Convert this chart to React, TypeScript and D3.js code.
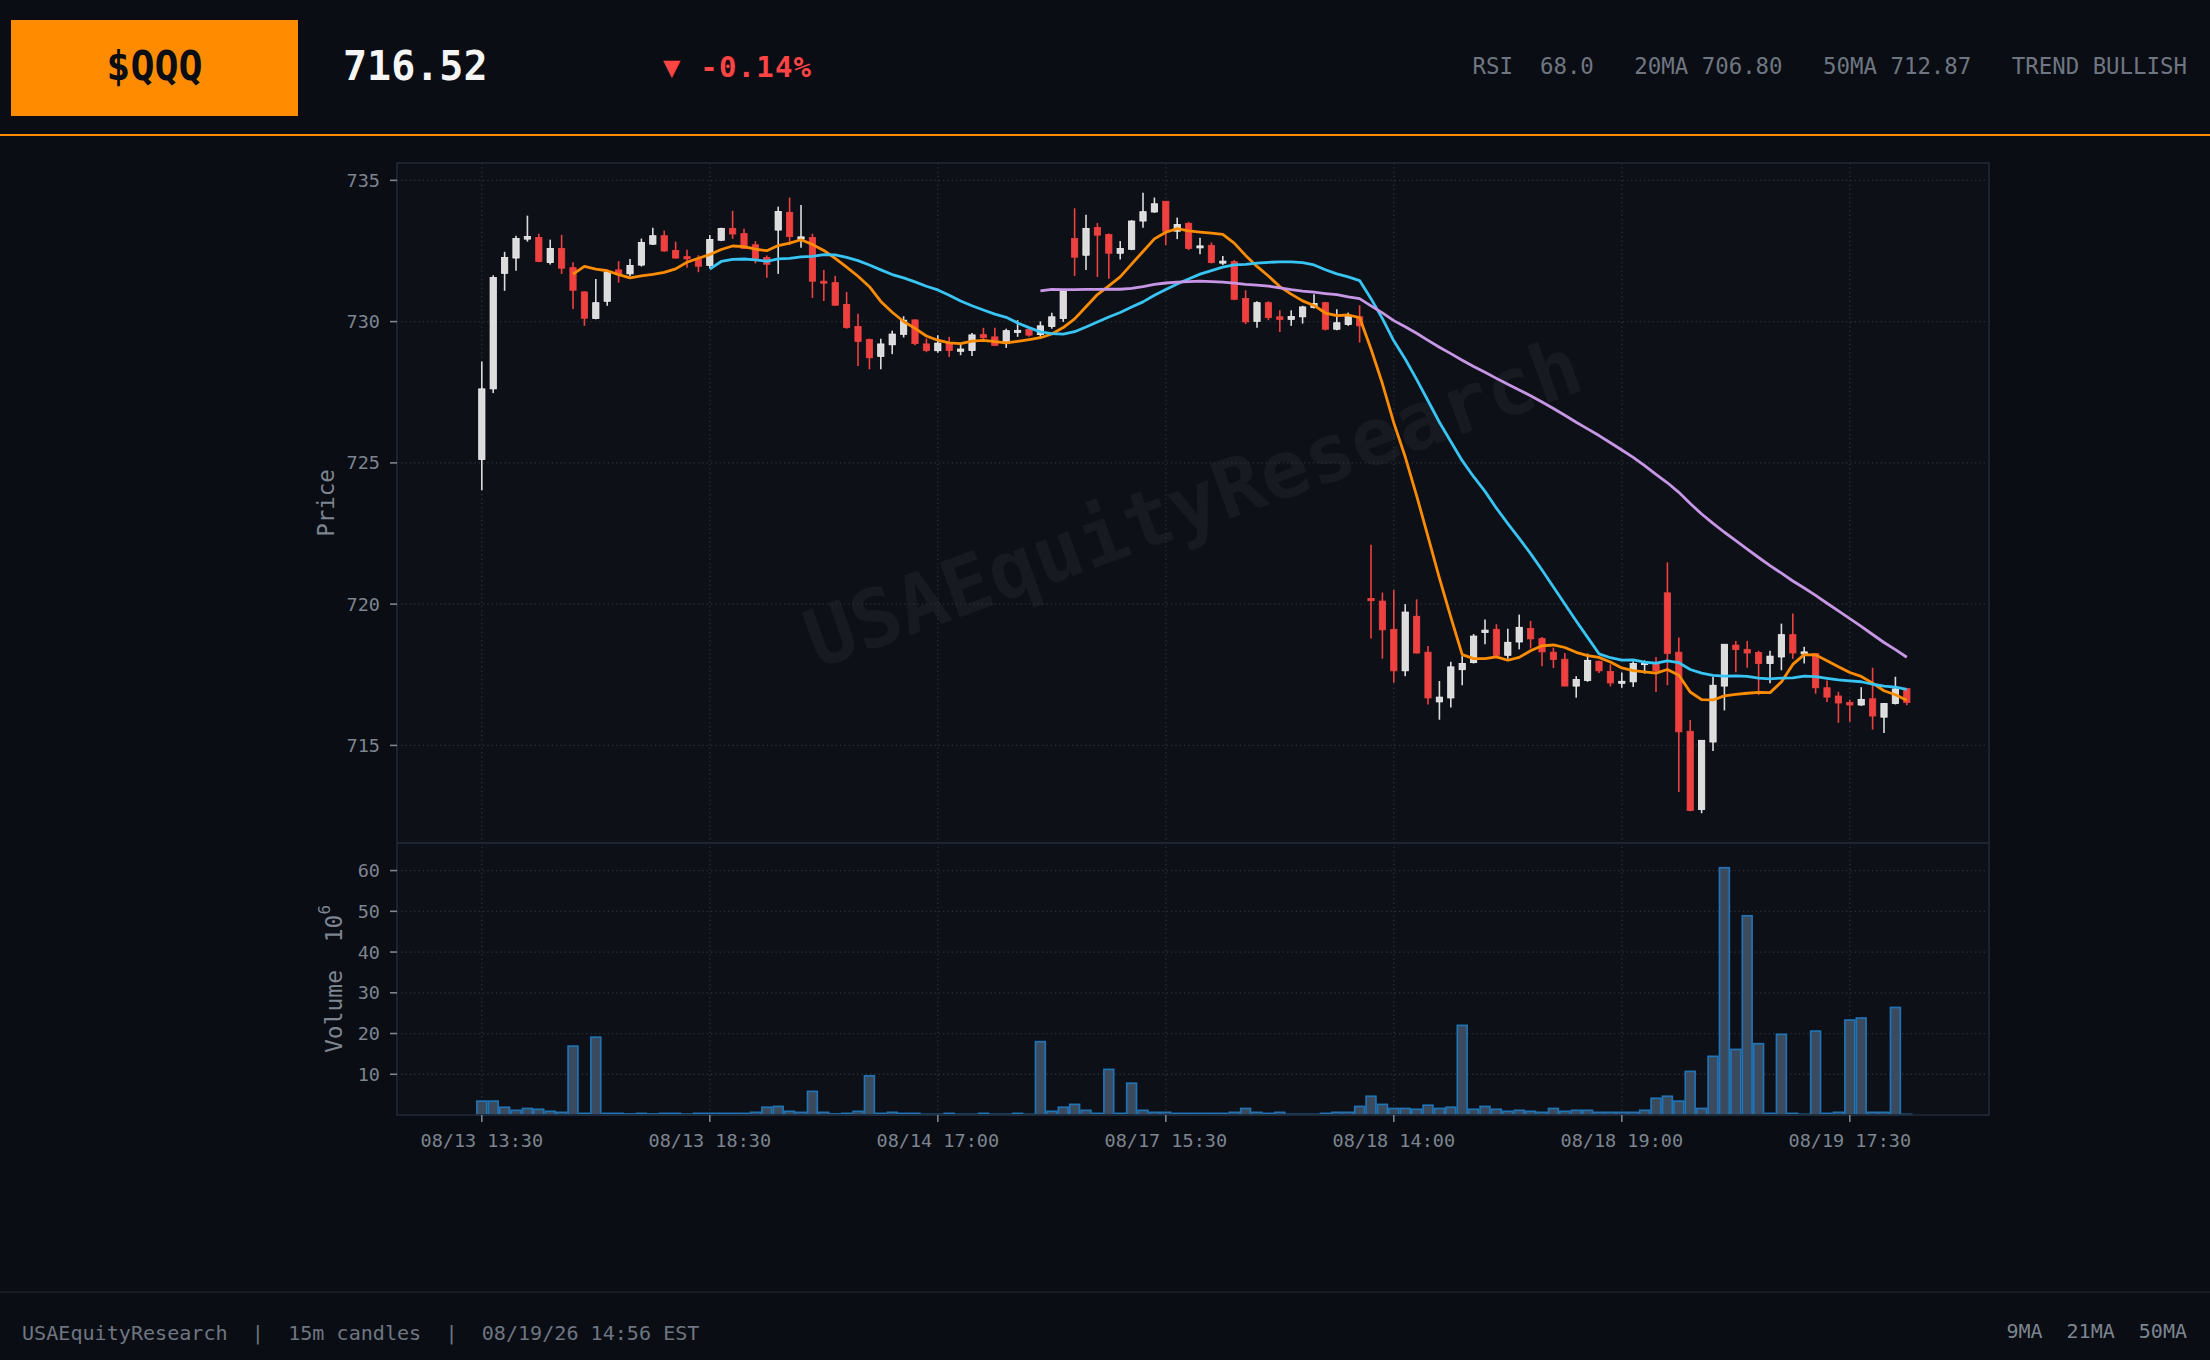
import * as d3 from "d3";

// 15m candles
const opens = [
  725.12, 727.62, 731.71, 732.25, 732.92, 732.98, 732.09, 732.59, 731.91, 731.05,
  730.11, 730.72, 731.83, 731.69, 732.0, 732.74, 733.04, 732.52, 732.3, 732.22,
  731.99, 732.88, 733.3, 733.12, 732.72, 732.27, 733.24, 733.87, 732.92, 732.98,
  731.43, 731.38, 730.61, 729.83, 729.37, 728.77, 729.18, 729.55, 730.06, 729.21,
  728.97, 729.23, 728.95, 728.98, 729.54, 729.46, 729.22, 729.65, 729.72, 729.54,
  729.83, 730.11, 732.94, 732.35, 733.33, 733.08, 732.42, 732.56, 733.56, 733.88,
  734.26, 733.2, 733.48, 732.61, 732.7, 732.09, 732.12, 730.82, 730.01, 730.67,
  730.17, 730.08, 730.17, 730.5, 730.67, 729.73, 729.9, 730.17, 720.2, 720.11,
  719.11, 717.64, 719.57, 718.3, 716.54, 716.68, 717.68, 717.93, 719.0, 719.11,
  718.19, 718.66, 719.14, 718.78, 718.3, 718.05, 717.1, 717.3, 717.98, 717.62,
  717.21, 717.25, 717.9, 717.9, 720.4, 718.3, 715.5, 712.73, 715.12, 717.1,
  718.55, 718.4, 718.29, 717.9, 718.13, 718.92, 718.27, 718.25, 717.04, 716.75,
  716.52, 716.43, 716.65, 716.0, 716.48, 717.01,
];
const highs = [
  728.59, 731.64, 732.47, 733.04, 733.75, 733.11, 732.9, 733.07, 732.1, 731.08,
  731.51, 731.82, 732.14, 732.22, 732.94, 733.32, 733.22, 732.83, 732.54, 732.35,
  733.07, 733.32, 733.92, 733.29, 732.85, 732.34, 734.07, 734.39, 734.13, 733.11,
  731.83, 731.62, 731.05, 730.28, 729.4, 729.39, 729.68, 730.19, 730.08, 729.4,
  729.52, 729.46, 729.22, 729.6, 729.78, 729.78, 729.75, 730.05, 729.75, 730.01,
  730.31, 731.11, 734.01, 733.78, 733.49, 733.12, 732.85, 733.59, 734.56, 734.39,
  734.26, 733.68, 733.53, 732.97, 732.8, 732.32, 732.18, 731.11, 730.72, 730.72,
  730.4, 730.4, 730.56, 730.97, 730.7, 730.44, 730.32, 730.58, 722.1, 720.41,
  720.5, 720.0, 720.17, 718.52, 717.28, 717.96, 718.16, 718.94, 719.46, 719.29,
  719.13, 719.63, 719.41, 718.84, 718.46, 718.27, 717.45, 718.25, 718.0, 717.87,
  717.58, 717.98, 718.01, 718.13, 721.48, 718.82, 715.9, 715.18, 717.42, 718.58,
  718.7, 718.7, 718.35, 718.35, 719.31, 719.67, 718.49, 718.25, 717.3, 716.9,
  716.62, 717.06, 717.75, 716.5, 717.43, 717.01,
];
const lows = [
  724.03, 727.47, 731.09, 731.8, 732.83, 732.1, 732.02, 731.69, 730.45, 729.85,
  730.08, 730.56, 731.38, 731.61, 731.95, 732.71, 732.47, 732.23, 731.91, 731.75,
  731.88, 732.85, 732.93, 732.57, 732.06, 731.55, 731.69, 732.71, 732.61, 730.84,
  730.73, 730.56, 729.75, 728.43, 728.31, 728.31, 728.85, 729.44, 729.16, 728.92,
  728.9, 728.75, 728.81, 728.78, 729.34, 729.14, 729.07, 729.46, 729.46, 729.46,
  729.75, 729.99, 731.62, 731.83, 731.58, 731.52, 732.2, 732.53, 733.32, 733.85,
  732.71, 732.92, 732.53, 732.38, 732.06, 732.0, 730.76, 729.91, 729.78, 730.05,
  729.63, 729.85, 729.93, 730.46, 729.69, 729.69, 729.85, 729.26, 718.78, 718.07,
  717.22, 717.45, 718.25, 716.45, 715.91, 716.34, 717.13, 717.9, 718.58, 718.16,
  718.07, 718.4, 718.43, 717.8, 717.74, 717.1, 716.69, 717.25, 717.56, 717.09,
  717.04, 717.07, 717.54, 716.89, 717.13, 713.35, 712.67, 712.6, 714.8, 716.24,
  717.59, 717.75, 716.78, 717.2, 717.66, 718.07, 717.9, 716.83, 716.54, 715.8,
  715.84, 716.4, 715.56, 715.44, 716.45, 716.42,
];
const closes = [
  727.62, 731.56, 732.27, 732.94, 733.01, 732.13, 732.59, 731.89, 731.11, 730.12,
  730.67, 731.74, 731.69, 731.99, 732.8, 733.04, 732.5, 732.25, 732.22, 731.96,
  732.91, 733.3, 733.1, 732.59, 732.23, 732.03, 733.9, 733.01, 733.0, 731.43,
  731.4, 730.58, 729.79, 729.3, 728.72, 729.21, 729.56, 730.05, 729.22, 728.98,
  729.24, 728.98, 729.03, 729.53, 729.43, 729.16, 729.68, 729.69, 729.52, 729.85,
  730.17, 731.08, 732.28, 733.3, 733.06, 732.42, 732.59, 733.56, 733.89, 734.17,
  733.2, 733.44, 732.59, 732.68, 732.09, 732.14, 730.79, 729.99, 730.67, 730.14,
  730.08, 730.18, 730.52, 730.64, 729.73, 729.96, 730.19, 729.85, 720.12, 719.09,
  717.64, 719.72, 718.27, 716.68, 716.71, 717.78, 717.9, 718.87, 719.08, 718.19,
  718.65, 719.18, 718.77, 718.31, 718.04, 717.1, 717.33, 718.01, 717.64, 717.21,
  717.27, 717.9, 717.93, 717.64, 718.25, 715.48, 712.7, 715.18, 717.13, 718.58,
  718.39, 718.27, 717.9, 718.16, 718.92, 718.27, 718.31, 717.04, 716.71, 716.5,
  716.43, 716.63, 716.04, 716.48, 717.0, 716.52,
];
// volume in millions
const volumes = [
  3.4, 3.4, 1.9, 1.15, 1.6, 1.4, 0.9, 0.65, 16.9, 0.4,
  19.1, 0.4, 0.4, 0.25, 0.4, 0.25, 0.4, 0.4, 0.2, 0.4,
  0.4, 0.4, 0.4, 0.4, 0.65, 1.9, 2.1, 0.9, 0.65, 5.8,
  0.65, 0.25, 0.4, 0.9, 9.6, 0.4, 0.65, 0.4, 0.4, 0.15,
  0.15, 0.4, 0.15, 0.15, 0.4, 0.15, 0.15, 0.4, 0.15, 18.0,
  0.9, 1.9, 2.6, 1.15, 0.4, 11.2, 0.4, 7.8, 1.15, 0.65,
  0.65, 0.4, 0.4, 0.4, 0.4, 0.4, 0.65, 1.6, 0.65, 0.4,
  0.65, 0.15, 0.15, 0.15, 0.4, 0.65, 0.65, 2.1, 4.6, 2.6,
  1.6, 1.6, 1.4, 2.4, 1.6, 1.9, 22.0, 1.4, 2.1, 1.4,
  0.9, 1.15, 0.9, 0.65, 1.6, 0.9, 1.15, 1.15, 0.65, 0.65,
  0.65, 0.65, 1.15, 4.1, 4.6, 3.4, 10.7, 1.6, 14.4, 60.7,
  16.1, 48.9, 17.5, 0.4, 19.8, 0.4, 0.15, 20.6, 0.4, 0.65,
  23.3, 23.8, 0.65, 0.65, 26.4, 0.15,
];

const tickIndex = [0, 20, 40, 60, 80, 100, 120];
const tickLabels = ["08/13 13:30", "08/13 18:30", "08/14 17:00", "08/17 15:30", "08/18 14:00", "08/18 19:00", "08/19 17:30"];

const maWindows = [9, 21, 50];
const maColors = ["#ff8c00", "#38c4f4", "#c896e6"];

const W = 2210;
const H = 1360;
const FONT = "'DejaVu Sans Mono', monospace";
const BG = "#0a0d14";
const PANEL = "#0d1117";
const BORDER = "#1e2631";
const GRID = "#2a313b";
const MUTED = "#7d8590";
const UP = "#dcdcdc";
const DOWN = "#ef4040";

const plot = { left: 397, right: 1989, top: 163, split: 843, bottom: 1115 };

function sma(values: number[], n: number) {
  return values.map((_, i) => (i < n - 1 ? null : d3.mean(values.slice(i - n + 1, i + 1)) as number));
}

export default function App() {
  const n = closes.length;
  const x = d3.scaleLinear().domain([-7.44, n - 1 + 7.21]).range([plot.left, plot.right]);
  const step = x(1) - x(0);

  const pMin = d3.min(lows) as number;
  const pMax = d3.max(highs) as number;
  const pad = (pMax - pMin) * 0.048;
  const y = d3.scaleLinear().domain([pMin - pad, pMax + pad]).range([plot.split, plot.top]);
  const yv = d3.scaleLinear().domain([0, (d3.max(volumes) as number) * 1.1]).range([plot.bottom, plot.split]);

  const priceTicks = y.ticks(5);
  const volTicks = yv.ticks(6).filter((t) => t > 0);

  const mas = maWindows.map((w) => sma(closes, w));
  const line = d3
    .line<number | null>()
    .defined((d) => d != null)
    .x((_, i) => x(i))
    .y((d) => y(d as number));

  const bodyW = step * 0.55;
  const barW = step * 0.86;
  const cx = (plot.left + plot.right) / 2;
  const cy = (plot.top + plot.split) / 2;

  return (
    <svg
      width={W}
      height={H}
      viewBox={`0 0 ${W} ${H}`}
      style={{ position: "absolute", left: 0, top: 0, display: "block", background: BG }}
      fontFamily={FONT}
    >
      <rect x={0} y={0} width={W} height={H} fill={BG} />

      {/* header */}
      <rect x={11} y={20} width={287} height={96} fill="#ff8c00" />
      <text x={154.5} y={80} textAnchor="middle" fontSize={40} fontWeight="bold" fill="#0a0d14">$QQQ</text>
      <text x={343} y={80} fontSize={40} fontWeight="bold" fill="#f5f5f5">716.52</text>
      <text x={663} y={77} fontSize={29} fontWeight="bold" fill="#ff4444" textLength={148} lengthAdjust="spacing">▼ -0.14%</text>
      <text x={2187} y={74} textAnchor="end" fontSize={22.4} fill="#6e7681" style={{ whiteSpace: "pre" }}>
        {"RSI  68.0   20MA 706.80   50MA 712.87   TREND BULLISH"}
      </text>
      <rect x={0} y={134} width={W} height={2} fill="#ff8c00" />

      {/* panels */}
      <rect x={plot.left} y={plot.top} width={plot.right - plot.left} height={plot.bottom - plot.top} fill={PANEL} />

      {/* watermark */}
      <text
        x={cx}
        y={cy}
        transform={`rotate(-20 ${cx} ${cy})`}
        textAnchor="middle"
        dominantBaseline="central"
        fontSize={80}
        fontWeight="bold"
        fill="#ffffff"
        fillOpacity={0.045}
      >
        USAEquityResearch
      </text>

      {/* grid */}
      <g stroke={GRID} strokeWidth={1.3} strokeDasharray="1.3 3">
        {priceTicks.map((t) => (
          <line key={`pg${t}`} x1={plot.left} x2={plot.right} y1={y(t)} y2={y(t)} />
        ))}
        {volTicks.map((t) => (
          <line key={`vg${t}`} x1={plot.left} x2={plot.right} y1={yv(t)} y2={yv(t)} />
        ))}
        {tickIndex.map((t) => (
          <line key={`xg${t}`} x1={x(t)} x2={x(t)} y1={plot.top} y2={plot.bottom} />
        ))}
      </g>

      {/* candles */}
      <g>
        {closes.map((c, i) => {
          const o = opens[i];
          const up = c >= o;
          const col = up ? UP : DOWN;
          const top = y(Math.max(o, c));
          const h = Math.max(2, Math.abs(y(o) - y(c)));
          return (
            <g key={i}>
              <line x1={x(i)} x2={x(i)} y1={y(highs[i])} y2={y(lows[i])} stroke={col} strokeWidth={1.6} />
              <rect x={x(i) - bodyW / 2} y={top} width={bodyW} height={h} fill={col} stroke={up ? "#f2f2f2" : DOWN} strokeWidth={0.8} />
            </g>
          );
        })}
      </g>

      {/* moving averages */}
      {mas.map((m, k) => (
        <path key={k} d={line(m) || ""} fill="none" stroke={maColors[k]} strokeWidth={2.8} strokeLinejoin="round" />
      ))}

      {/* volume */}
      <g>
        {volumes.map((v, i) => (
          <rect
            key={i}
            x={x(i) - barW / 2}
            y={yv(v)}
            width={barW}
            height={Math.max(0, plot.bottom - yv(v))}
            fill="#3b4a5c"
            stroke="#2073b5"
            strokeWidth={1.7}
          />
        ))}
      </g>

      {/* panel borders */}
      <rect x={plot.left} y={plot.top} width={plot.right - plot.left} height={plot.split - plot.top} fill="none" stroke={BORDER} strokeWidth={1.8} />
      <rect x={plot.left} y={plot.split} width={plot.right - plot.left} height={plot.bottom - plot.split} fill="none" stroke={BORDER} strokeWidth={1.8} />

      {/* y axes */}
      <g fontSize={18.5} fill={MUTED}>
        {priceTicks.map((t) => (
          <g key={`pt${t}`}>
            <line x1={plot.left - 7} x2={plot.left} y1={y(t)} y2={y(t)} stroke={MUTED} strokeWidth={1.6} />
            <text x={plot.left - 17} y={y(t)} textAnchor="end" dominantBaseline="central">{t}</text>
          </g>
        ))}
        {volTicks.map((t) => (
          <g key={`vt${t}`}>
            <line x1={plot.left - 7} x2={plot.left} y1={yv(t)} y2={yv(t)} stroke={MUTED} strokeWidth={1.6} />
            <text x={plot.left - 17} y={yv(t)} textAnchor="end" dominantBaseline="central">{t}</text>
          </g>
        ))}
      </g>
      <text
        transform={`translate(326 ${cy}) rotate(-90)`}
        textAnchor="middle"
        dominantBaseline="central"
        fontSize={22.5}
        fill={MUTED}
      >
        Price
      </text>
      <text
        transform={`translate(334 ${(plot.split + plot.bottom) / 2}) rotate(-90)`}
        textAnchor="middle"
        dominantBaseline="central"
        fontSize={23}
        fill={MUTED}
        style={{ whiteSpace: "pre" }}
      >
        {"Volume  10"}
        <tspan fontSize={16} dy={-10}>6</tspan>
      </text>

      {/* x axis */}
      <g fontSize={18.5} fill={MUTED}>
        {tickIndex.map((t, k) => (
          <g key={`xt${t}`}>
            <line x1={x(t)} x2={x(t)} y1={plot.bottom} y2={plot.bottom + 7} stroke={MUTED} strokeWidth={1.6} />
            <text x={x(t)} y={1147} textAnchor="middle">{tickLabels[k]}</text>
          </g>
        ))}
      </g>

      {/* footer */}
      <rect x={0} y={1291.5} width={W} height={1.2} fill={BORDER} />
      <text x={22} y={1340} fontSize={20.1} fill="#6e7681" style={{ whiteSpace: "pre" }}>
        {"USAEquityResearch  |  15m candles  |  08/19/26 14:56 EST"}
      </text>
      <text x={2187} y={1338} textAnchor="end" fontSize={20} fill={MUTED} style={{ whiteSpace: "pre" }}>
        {"9MA  21MA  50MA"}
      </text>
    </svg>
  );
}
